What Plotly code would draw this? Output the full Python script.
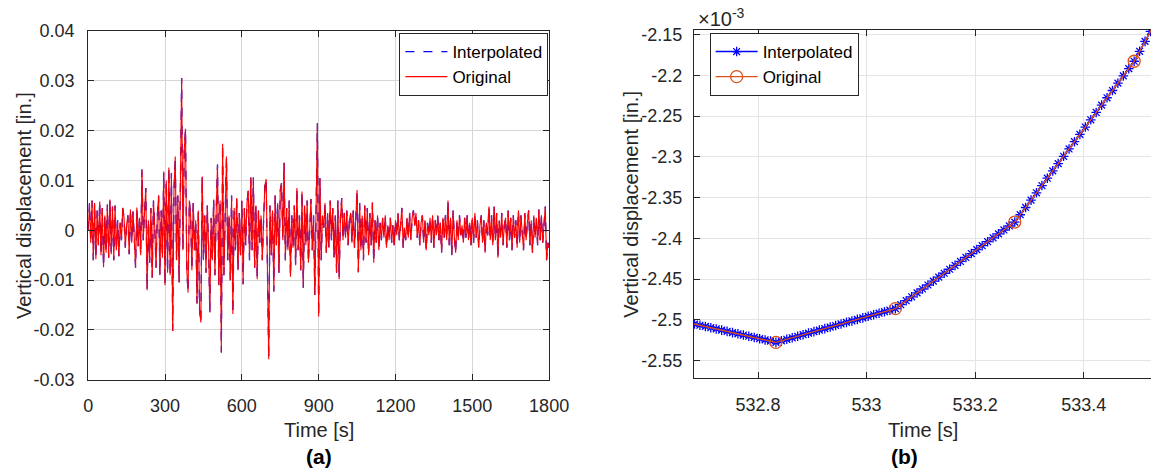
import numpy as np
import plotly.graph_objects as go

# ---------------- (a) full record: vertical displacement vs time ----------------
# record sampled every 5 s, values in 1e-3 in.
time_a_start, time_a_step = 0, 5
disp_a_milli = [
    0.0, 5.5, -2.5, 6.0, -6.0, 5.5, -5.8, 4.0, -3.0, 5.8, -5.0, 4.5, -7.4, 3.0, -4.5, 5.2, -5.5, 6.2, -4.8, 4.8,
    -6.0, 5.0, -4.0, 2.0, -5.2, 1.5, -2.0, 4.5, 2.5, -3.5, 1.0, 3.0, -4.8, 4.2, -2.5, 3.8, -1.5, -7.5, 4.6, -3.2,
    2.5, -5.0, 12.2, -2.0, 3.5, 8.5, -12.0, 2.0, -6.5, 4.5, -9.5, 6.0, 0.5, -7.5, 3.0, 7.0, -9.0, 4.0, -5.5, 11.8,
    -11.0, 10.0, -8.5, 12.6, -9.0, 11.5, -20.2, 8.0, 14.8, -6.0, 7.0, -10.5, 9.0, 30.6, -4.0, 16.0, 20.4, -8.0, -12.5, 6.0,
    3.0, -8.0, 5.5, -4.0, 2.0, -14.7, 4.0, -16.0, -18.5, 10.8, -6.0, 3.0, -8.5, 5.0, -3.0, -16.5, 2.5, -6.0, 6.2, -9.0,
    4.0, 13.2, -11.0, 6.0, -24.5, 17.4, -9.0, 5.0, 14.8, -6.0, 3.0, -10.0, 7.0, -16.8, 4.5, -4.0, 6.5, -8.0, 3.5, -5.0,
    6.0, -10.8, 4.5, -3.0, 5.5, 8.0, -6.0, 10.6, -4.0, 10.6, -7.5, 5.0, -9.8, 4.0, -2.5, 3.0, -6.0, 2.0, 9.0, 10.3,
    -8.0, -25.9, 5.0, -5.0, 4.0, -12.3, 7.0, -3.0, 5.5, -8.5, 8.0, 9.5, -2.0, 13.6, -6.0, 4.5, -4.0, 6.0, -9.3, 3.0,
    -3.5, 5.0, -7.0, 8.5, -4.0, 3.0, -8.0, 7.8, -11.5, 5.0, -3.0, 6.0, -6.5, 2.0, 6.3, -4.0, 3.0, -13.0, 4.0, 21.5,
    -17.3, 10.5, -6.0, 3.0, 0.5, 5.5, -4.5, 3.5, -3.5, 6.0, -2.0, 4.5, -5.5, 3.0, -8.5, 6.0, -9.8, 2.5, 6.5, -2.0,
    3.5, -1.5, 4.0, -3.0, 2.0, 3.5, -2.5, 4.0, -3.5, 1.5, 8.1, -8.4, 5.5, -4.0, 3.0, -6.0, 5.0, -2.5, 4.5, -5.0,
    3.5, -3.0, 5.6, -6.5, 2.0, -2.5, 3.0, -4.0, 1.5, -2.0, 2.5, -1.5, 3.0, -3.5, 1.0, -2.0, 2.5, -2.5, 1.0, -3.0,
    2.0, -1.0, 3.5, -2.0, 1.0, 4.5, -3.5, 0.5, -2.0, 2.5, -1.5, 3.5, -2.0, 2.5, 4.0, 1.0, 3.5, -1.5, 2.0, -3.0,
    1.5, 3.0, -2.5, 2.0, -4.0, 1.5, -1.0, 2.5, -2.5, 3.0, -3.5, 2.0, -1.0, 3.0, -2.0, 1.5, -4.5, 2.5, -1.5, 3.0,
    -2.0, 6.0, -3.0, 2.5, -5.0, 4.0, -1.5, -4.5, 2.0, -2.0, 3.0, -1.0, 1.0, -2.5, 2.5, -1.5, 3.0, -2.0, 1.5, -3.0,
    2.5, -2.5, 3.5, -1.5, 2.0, -3.5, 1.0, 3.0, -2.5, 2.0, -4.5, 1.5, -1.0, 4.8, -2.0, 3.0, -3.0, 4.8, -2.0, 3.5,
    -5.5, 2.0, -1.5, 3.5, -3.0, 1.0, 2.5, -3.5, 4.0, -2.0, 2.5, -4.0, 3.0, -1.5, 2.0, -3.5, 4.0, -2.5, 3.0, -1.0,
    -4.0, 3.5, -2.0, 1.5, 4.0, -3.0, 2.0, -4.5, 3.0, -1.5, 2.5, -3.0, 4.2, -2.0, 3.0, -2.5, 1.0, 4.8, -6.0, -2.5,
    -3.5,
]
xticks_a = [0, 300, 600, 900, 1200, 1500, 1800]
yticks_a = [-0.03, -0.02, -0.01, 0.0, 0.01, 0.02, 0.03, 0.04]
yticklabels_a = ["-0.03", "-0.02", "-0.01", "0", "0.01", "0.02", "0.03", "0.04"]

# ---------------- (b) close-up around t = 533 s (values in 1e-3 in.) ----------------
orig_t_b = [532.613, 532.833, 533.053, 533.273, 533.493, 533.713]
orig_v_b = [-2.4946, -2.5276, -2.4862, -2.3800, -2.1827, -1.9143]

interp_t0_b, interp_dt_b = 532.673, 0.01
interp_v_b = [
    -2.5036, -2.5051, -2.5066, -2.5081, -2.5096, -2.5111, -2.5126, -2.5141, -2.5156, -2.5171,
    -2.5186, -2.5201, -2.5216, -2.5231, -2.5246, -2.5261, -2.5276,
    -2.5257, -2.5238, -2.5220, -2.5201, -2.5182, -2.5163, -2.5144, -2.5125, -2.5107, -2.5088,
    -2.5069, -2.5050, -2.5031, -2.5013, -2.4994, -2.4975, -2.4956, -2.4937, -2.4918, -2.4900,
    -2.4881, -2.4862,
    -2.4814, -2.4765, -2.4717, -2.4669, -2.4621, -2.4572, -2.4524, -2.4476, -2.4428, -2.4379,
    -2.4331, -2.4283, -2.4234, -2.4186, -2.4138, -2.4090, -2.4041, -2.3993, -2.3945, -2.3897,
    -2.3848, -2.3800,
    -2.3710, -2.3621, -2.3531, -2.3441, -2.3352, -2.3262, -2.3172, -2.3083, -2.2993, -2.2903,
    -2.2814, -2.2724, -2.2634, -2.2545, -2.2455, -2.2365, -2.2275, -2.2186, -2.2096, -2.2006,
    -2.1917, -2.1827,
    -2.1705, -2.1583, -2.1461, -2.1339, -2.1217,
]
xticks_b = [532.8, 533.0, 533.2, 533.4]
xticklabels_b = ["532.8", "533", "533.2", "533.4"]
yticks_b = [-2.55, -2.5, -2.45, -2.4, -2.35, -2.3, -2.25, -2.2, -2.15]
yticklabels_b = ["-2.55", "-2.5", "-2.45", "-2.4", "-2.35", "-2.3", "-2.25", "-2.2", "-2.15"]

time_a = time_a_start + time_a_step * np.arange(len(disp_a_milli))
disp_a = np.array(disp_a_milli) * 1e-3
interp_t_b = np.round(interp_t0_b + interp_dt_b * np.arange(len(interp_v_b)), 3)

FONT = "Liberation Sans, Arial, Helvetica, sans-serif"
INK = "#262626"
W, H = 1171, 476

fig = go.Figure()

# (a)
fig.add_trace(go.Scatter(
    x=time_a, y=disp_a, mode="lines", name="Interpolated",
    line=dict(color="#0000FF", width=1.3, dash="dash"),
    xaxis="x", yaxis="y", legend="legend",
))
fig.add_trace(go.Scatter(
    x=time_a, y=disp_a, mode="lines", name="Original",
    line=dict(color="#FF0000", width=1.1),
    xaxis="x", yaxis="y", legend="legend",
))

# (b)
fig.add_trace(go.Scatter(
    x=interp_t_b, y=interp_v_b, mode="lines+markers", name="Interpolated",
    line=dict(color="#0000FF", width=1.5),
    marker=dict(symbol="asterisk-open", size=8, color="#0000FF", line=dict(color="#0000FF", width=1.3)),
    xaxis="x2", yaxis="y2", legend="legend2",
))
fig.add_trace(go.Scatter(
    x=orig_t_b, y=orig_v_b, mode="lines+markers", name="Original",
    line=dict(color="#D95319", width=1.4),
    marker=dict(symbol="circle-open", size=12, color="#D95319", line=dict(color="#D95319", width=1.3)),
    xaxis="x2", yaxis="y2", legend="legend2",
))

axis_common = dict(
    showline=True, linecolor=INK, linewidth=1, ticks="inside", ticklen=6, tickcolor=INK,
    tickfont=dict(family=FONT, size=18, color=INK), zeroline=False, showgrid=True,
)

legend_common = dict(
    xanchor="left", yanchor="top", bgcolor="white", bordercolor=INK, borderwidth=1,
    font=dict(family=FONT, size=17, color="black"), tracegroupgap=0, itemwidth=42,
)

fig.update_layout(
    width=W, height=H,
    margin=dict(l=0, r=0, t=0, b=0),
    paper_bgcolor="white", plot_bgcolor="white",
    font=dict(family=FONT, color=INK),
    xaxis=dict(domain=[85 / W, 556 / W], range=[0, 1800], tickvals=xticks_a,
               mirror="ticks", gridcolor="#d6d6d6", ticklabelstandoff=10, **axis_common),
    yaxis=dict(domain=[1 - 386 / H, 1 - 22 / H], range=[-0.03, 0.04], tickvals=yticks_a,
               ticktext=yticklabels_a, mirror="ticks", gridcolor="#d6d6d6", ticklabelstandoff=9,
               **axis_common),
    xaxis2=dict(domain=[704 / W, 1.0], range=[532.682, 533.524], tickvals=xticks_b,
                ticktext=xticklabels_b, mirror="ticks", gridcolor="#e4e4e4", anchor="y2",
                ticklabelstandoff=10, **axis_common),
    yaxis2=dict(domain=[1 - 384.3 / H, 1 - 21 / H], range=[-2.5715, -2.1445], tickvals=yticks_b,
                ticktext=yticklabels_b, gridcolor="#e4e4e4", anchor="x2", ticklabelstandoff=7,
                **axis_common),
    legend=dict(x=403 / W, y=1 - 24 / H, **legend_common),
    legend2=dict(x=720 / W, y=1 - 24 / H, **legend_common),
    showlegend=True,
)

label_font = dict(family=FONT, size=20, color=INK)
annotations = [
    dict(text="Vertical displacement [in.]", x=20 / W, y=1 - 204 / H, textangle=-90, font=label_font),
    dict(text="Vertical displacement [in.]", x=640 / W, y=1 - 203 / H, textangle=-90, font=label_font),
    dict(text="Time [s]", x=320.5 / W, y=1 - 438 / H, font=label_font),
    dict(text="Time [s]", x=938 / W, y=1 - 438 / H, font=label_font),
    dict(text="<b>(a)</b>", x=320.5 / W, y=1 - 466 / H, font=dict(family=FONT, size=21, color="black")),
    dict(text="<b>(b)</b>", x=919 / W, y=1 - 466 / H, font=dict(family=FONT, size=21, color="black")),
    dict(text="×10<sup>-3</sup>", x=706 / W, y=1 - 8 / H, xanchor="left",
         font=dict(family=FONT, size=20, color=INK)),
]
for a in annotations:
    a.setdefault("xanchor", "center")
    fig.add_annotation(xref="paper", yref="paper", showarrow=False, yanchor="middle", **a)

fig.write_html("out.html")
